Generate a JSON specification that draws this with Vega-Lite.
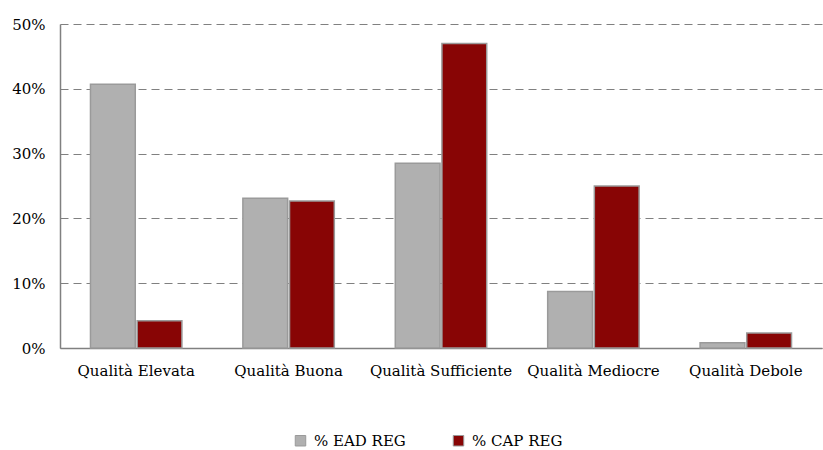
{
  "$schema": "https://vega.github.io/schema/vega-lite/v6.json",
  "width": 762,
  "height": 324,
  "autosize": {"type": "none"},
  "padding": {"left": 60, "top": 24, "right": 1, "bottom": 102},
  "background": "white",
  "config": {
    "view": {"stroke": null},
    "font": "DejaVu Serif",
    "axis": {"labelFont": "DejaVu Serif"},
    "legend": {"labelFont": "DejaVu Serif"}
  },
  "data": {
    "values": [
      {"categoria": "Qualità Elevata", "serie": "% EAD REG", "valore": 0.407},
      {"categoria": "Qualità Elevata", "serie": "% CAP REG", "valore": 0.042},
      {"categoria": "Qualità Buona", "serie": "% EAD REG", "valore": 0.231},
      {"categoria": "Qualità Buona", "serie": "% CAP REG", "valore": 0.227},
      {"categoria": "Qualità Sufficiente", "serie": "% EAD REG", "valore": 0.285},
      {"categoria": "Qualità Sufficiente", "serie": "% CAP REG", "valore": 0.470},
      {"categoria": "Qualità Mediocre", "serie": "% EAD REG", "valore": 0.087},
      {"categoria": "Qualità Mediocre", "serie": "% CAP REG", "valore": 0.250},
      {"categoria": "Qualità Debole", "serie": "% EAD REG", "valore": 0.008},
      {"categoria": "Qualità Debole", "serie": "% CAP REG", "valore": 0.023}
    ]
  },
  "mark": {"type": "bar", "stroke": "#9a9a9a", "strokeWidth": 1.5},
  "encoding": {
    "x": {
      "field": "categoria",
      "type": "nominal",
      "sort": ["Qualità Elevata", "Qualità Buona", "Qualità Sufficiente", "Qualità Mediocre", "Qualità Debole"],
      "scale": {"paddingInner": 0.4, "paddingOuter": 0.2},
      "axis": {
        "title": null,
        "labelAngle": 0,
        "labelFontSize": 15,
        "labelColor": "#000",
        "labelPadding": 15,
        "ticks": false,
        "domainColor": "#808080",
        "domainWidth": 1.5,
        "grid": false
      }
    },
    "xOffset": {
      "field": "serie",
      "type": "nominal",
      "sort": ["% EAD REG", "% CAP REG"],
      "scale": {"paddingInner": 0.04}
    },
    "y": {
      "field": "valore",
      "type": "quantitative",
      "scale": {"domain": [0, 0.5], "nice": false},
      "axis": {
        "title": null,
        "format": ".0%",
        "values": [0, 0.1, 0.2, 0.3, 0.4, 0.5],
        "labelFontSize": 15,
        "labelColor": "#000",
        "labelPadding": 15,
        "ticks": false,
        "domainColor": "#808080",
        "domainWidth": 1.5,
        "gridColor": "#808080",
        "gridDash": [8, 5],
        "gridWidth": 1.2
      }
    },
    "color": {
      "field": "serie",
      "type": "nominal",
      "sort": ["% EAD REG", "% CAP REG"],
      "scale": {"domain": ["% EAD REG", "% CAP REG"], "range": ["#b0b0b0", "#880505"]},
      "legend": {
        "title": null,
        "orient": "none",
        "legendX": 233,
        "legendY": 409,
        "direction": "horizontal",
        "symbolType": "square",
        "symbolSize": 110,
        "symbolStrokeColor": "#9a9a9a",
        "symbolStrokeWidth": 1,
        "labelFontSize": 15,
        "labelColor": "#000",
        "columnPadding": 45,
        "labelOffset": 6
      }
    }
  }
}
